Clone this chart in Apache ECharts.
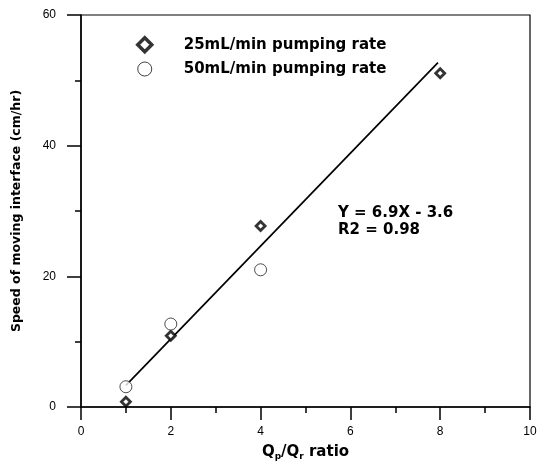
<!DOCTYPE html>
<html>
<head>
<meta charset="utf-8">
<script src="https://cdn.jsdelivr.net/npm/echarts@6/dist/echarts.min.js"></script>
<style>
  html, body { margin: 0; padding: 0; background: #fff; }
  #chart { width: 537px; height: 461px; }
</style>
</head>
<body>
<div id="chart"></div>
<script>
// 25mL/min 抽水速率
var rate25_x = [1, 2, 4, 8];
var rate25_y = [0.8, 10.9, 27.7, 51.1];
// 50mL/min 抽水速率
var rate50_x = [1, 2, 4];
var rate50_y = [3.1, 12.7, 21.0];
// 拟合线的两个端点
var fit_x = [1, 7.95];
var fit_y = [3.3, 52.7];

var series_names = ['25mL/min pumping rate', '50mL/min pumping rate'];
var fit_text = ['Y = 6.9X - 3.6', 'R2 = 0.98'];

function zip(xs, ys) {
  var out = [];
  for (var i = 0; i < xs.length; i++) {
    out.push([xs[i], ys[i]]);
  }
  return out;
}

var font = '"Liberation Sans", Arial, sans-serif';
var wide = '"DejaVu Sans", sans-serif';
var chart = echarts.init(document.getElementById('chart'));

chart.setOption({
  animation: false,
  grid: {
    left: 81, right: 7, top: 15, bottom: 54,
    outerBoundsMode: 'none', containLabel: false,
    show: true, borderColor: '#000', borderWidth: 1.2
  },
  legend: {
    data: [
      { name: series_names[0], itemStyle: { color: '#fff', borderColor: '#000', borderWidth: 3.5 } },
      { name: series_names[1], itemStyle: { color: '#fff', borderColor: '#111', borderWidth: 1 } }
    ],
    orient: 'vertical',
    left: 131, top: 31,
    itemWidth: 14, itemHeight: 14, itemGap: 8,
    textStyle: { fontFamily: wide, fontWeight: 'bold', fontSize: 15, color: '#000', padding: [0, 0, 0, 27] }
  },
  xAxis: {
    type: 'value', min: 0, max: 10, interval: 2,
    splitLine: { show: false },
    axisLine: { onZero: false, lineStyle: { color: '#000', width: 1.5 } },
    axisTick: { length: 13, lineStyle: { color: '#000', width: 1.5 } },
    minorTick: { show: true, splitNumber: 2, length: 6, lineStyle: { color: '#000', width: 1.5 } },
    axisLabel: { color: '#000', fontFamily: font, fontSize: 12, margin: 19 },
    name: '{b|Q}{s|p}{b|/Q}{s|r}{b| ratio}',
    nameLocation: 'middle', nameGap: 36,
    nameTextStyle: {
      rich: {
        b: { fontFamily: wide, fontWeight: 'bold', fontSize: 15, color: '#000' },
        s: { fontFamily: wide, fontWeight: 'bold', fontSize: 9, color: '#000', verticalAlign: 'bottom', padding: [9, 0, 0, 0] }
      }
    }
  },
  yAxis: {
    type: 'value', min: 0, max: 60, interval: 20,
    splitLine: { show: false },
    axisLine: { onZero: false, lineStyle: { color: '#000', width: 1.5 } },
    axisTick: { length: 14, lineStyle: { color: '#000', width: 1.5 } },
    minorTick: { show: true, splitNumber: 2, length: 6, lineStyle: { color: '#000', width: 1.5 } },
    axisLabel: { color: '#000', fontFamily: font, fontSize: 12, margin: 25 },
    name: 'Speed of moving interface (cm/hr)',
    nameLocation: 'middle', nameGap: 58, nameRotate: 90,
    nameTextStyle: { fontFamily: wide, fontWeight: 'bold', fontSize: 12.5, color: '#000' }
  },
  graphic: [
    { type: 'text', left: 338, top: 206, style: { text: fit_text[0], font: 'bold 15px ' + wide, fill: '#000' } },
    { type: 'text', left: 338, top: 223, style: { text: fit_text[1], font: 'bold 15px ' + wide, fill: '#000' } }
  ],
  series: [
    {
      name: 'fit', type: 'line', data: zip(fit_x, fit_y),
      symbol: 'none', lineStyle: { color: '#000', width: 1.7 }, z: 2
    },
    {
      name: series_names[0], type: 'scatter', data: zip(rate25_x, rate25_y),
      symbol: 'diamond', symbolSize: 9,
      itemStyle: { color: '#fff', borderColor: '#000', borderWidth: 2.8 }, z: 3
    },
    {
      name: series_names[1], type: 'scatter', data: zip(rate50_x, rate50_y),
      symbol: 'circle', symbolSize: 12,
      itemStyle: { color: '#fff', borderColor: '#222', borderWidth: 1 }, z: 3
    }
  ]
});
</script>
</body>
</html>
